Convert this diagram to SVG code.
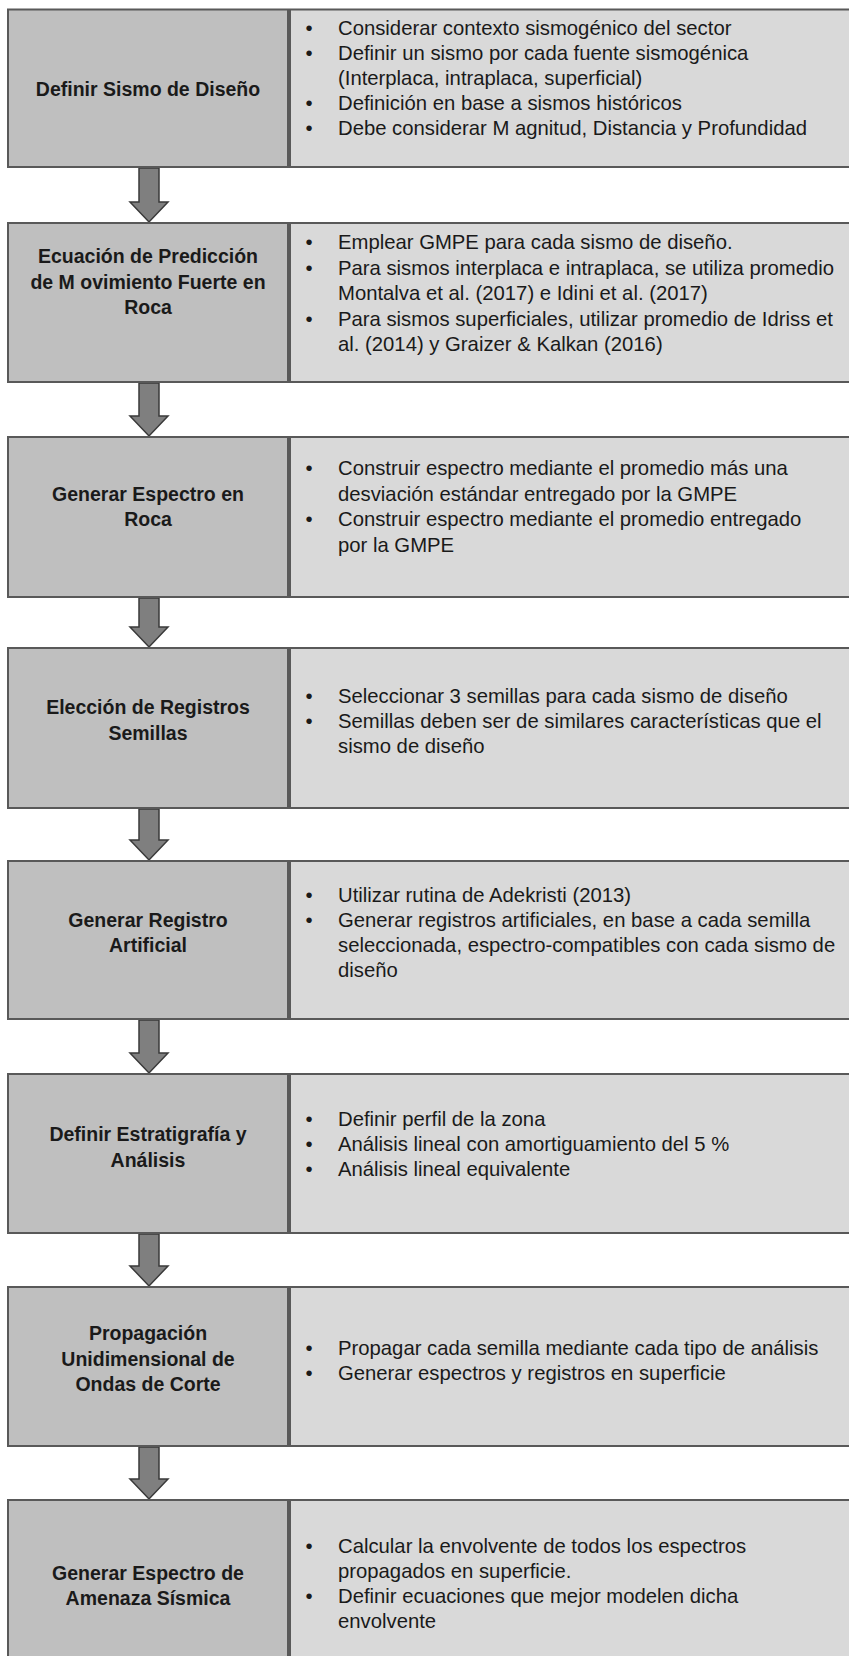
<svg xmlns="http://www.w3.org/2000/svg" width="849" height="1656" viewBox="0 0 849 1656">
<style>
.l{fill:#bfbfbf;stroke:#595959;stroke-width:2}
.r{fill:#d9d9d9;stroke:#595959;stroke-width:2}
.lt{font-family:"Liberation Sans",Arial,sans-serif;font-size:19.5px;font-weight:bold;fill:#1a1a1a;text-anchor:middle}
.rt{font-family:"Liberation Sans",Arial,sans-serif;font-size:20.3px;fill:#1a1a1a}
.b{font-family:"Liberation Sans",Arial,sans-serif;font-size:20.3px;fill:#1a1a1a;text-anchor:middle}
.a{fill:#7f7f7f;stroke:#3a3a3a;stroke-width:1.5;stroke-linejoin:miter}
</style>
<rect width="849" height="1656" fill="#ffffff"/>
<g id="connectors">
<polygon class="a" points="139,168 159,168 159,202 168,202 149,222 130,202 139,202"/>
<polygon class="a" points="139,383 159,383 159,416 168,416 149,436 130,416 139,416"/>
<polygon class="a" points="139,598 159,598 159,627 168,627 149,647 130,627 139,627"/>
<polygon class="a" points="139,809 159,809 159,840 168,840 149,860 130,840 139,840"/>
<polygon class="a" points="139,1020 159,1020 159,1053 168,1053 149,1073 130,1053 139,1053"/>
<polygon class="a" points="139,1234 159,1234 159,1266 168,1266 149,1286 130,1266 139,1266"/>
<polygon class="a" points="139,1447 159,1447 159,1479 168,1479 149,1499 130,1479 139,1479"/>
</g>
<g id="n1">
<rect class="l" x="8" y="9.5" width="280" height="157.5"/>
<rect class="r" x="290" y="9.5" width="580" height="157.5"/>
<text class="lt" x="148" y="96">Definir Sismo de Diseño</text>
<text class="b" x="309" y="35">•</text><text class="rt" x="338" y="35">Considerar contexto sismogénico del sector</text>
<text class="b" x="309" y="60">•</text><text class="rt" x="338" y="60">Definir un sismo por cada fuente sismogénica</text>
<text class="rt" x="338" y="85">(Interplaca, intraplaca, superficial)</text>
<text class="b" x="309" y="110">•</text><text class="rt" x="338" y="110">Definición en base a sismos históricos</text>
<text class="b" x="309" y="135">•</text><text class="rt" x="338" y="135">Debe considerar M agnitud, Distancia y Profundidad</text>
</g>
<g id="n2">
<rect class="l" x="8" y="223" width="280" height="159"/>
<rect class="r" x="290" y="223" width="580" height="159"/>
<text class="lt" x="148" y="263">Ecuación de Predicción</text>
<text class="lt" x="148" y="288.5">de M ovimiento Fuerte en</text>
<text class="lt" x="148" y="314">Roca</text>
<text class="b" x="309" y="249">•</text><text class="rt" x="338" y="249">Emplear GMPE para cada sismo de diseño.</text>
<text class="b" x="309" y="274.5">•</text><text class="rt" x="338" y="274.5">Para sismos interplaca e intraplaca, se utiliza promedio</text>
<text class="rt" x="338" y="300">Montalva et al. (2017) e Idini et al. (2017)</text>
<text class="b" x="309" y="325.5">•</text><text class="rt" x="338" y="325.5">Para sismos superficiales, utilizar promedio de Idriss et</text>
<text class="rt" x="338" y="351">al. (2014) y Graizer &amp; Kalkan (2016)</text>
</g>
<g id="n3">
<rect class="l" x="8" y="437" width="280" height="160"/>
<rect class="r" x="290" y="437" width="580" height="160"/>
<text class="lt" x="148" y="500.5">Generar Espectro en</text>
<text class="lt" x="148" y="526">Roca</text>
<text class="b" x="309" y="475">•</text><text class="rt" x="338" y="475">Construir espectro mediante el promedio más una</text>
<text class="rt" x="338" y="500.5">desviación estándar entregado por la GMPE</text>
<text class="b" x="309" y="526">•</text><text class="rt" x="338" y="526">Construir espectro mediante el promedio entregado</text>
<text class="rt" x="338" y="551.5">por la GMPE</text>
</g>
<g id="n4">
<rect class="l" x="8" y="648" width="280" height="160"/>
<rect class="r" x="290" y="648" width="580" height="160"/>
<text class="lt" x="148" y="714">Elección de Registros</text>
<text class="lt" x="148" y="739.5">Semillas</text>
<text class="b" x="309" y="703">•</text><text class="rt" x="338" y="703">Seleccionar 3 semillas para cada sismo de diseño</text>
<text class="b" x="309" y="728">•</text><text class="rt" x="338" y="728">Semillas deben ser de similares características que el</text>
<text class="rt" x="338" y="753">sismo de diseño</text>
</g>
<g id="n5">
<rect class="l" x="8" y="861" width="280" height="158"/>
<rect class="r" x="290" y="861" width="580" height="158"/>
<text class="lt" x="148" y="926.5">Generar Registro</text>
<text class="lt" x="148" y="952">Artificial</text>
<text class="b" x="309" y="902">•</text><text class="rt" x="338" y="902">Utilizar rutina de Adekristi (2013)</text>
<text class="b" x="309" y="927">•</text><text class="rt" x="338" y="927">Generar registros artificiales, en base a cada semilla</text>
<text class="rt" x="338" y="952">seleccionada, espectro-compatibles con cada sismo de</text>
<text class="rt" x="338" y="977">diseño</text>
</g>
<g id="n6">
<rect class="l" x="8" y="1074" width="280" height="159"/>
<rect class="r" x="290" y="1074" width="580" height="159"/>
<text class="lt" x="148" y="1141">Definir Estratigrafía y</text>
<text class="lt" x="148" y="1166.5">Análisis</text>
<text class="b" x="309" y="1126">•</text><text class="rt" x="338" y="1126">Definir perfil de la zona</text>
<text class="b" x="309" y="1151">•</text><text class="rt" x="338" y="1151">Análisis lineal con amortiguamiento del 5 %</text>
<text class="b" x="309" y="1176">•</text><text class="rt" x="338" y="1176">Análisis lineal equivalente</text>
</g>
<g id="n7">
<rect class="l" x="8" y="1287" width="280" height="159"/>
<rect class="r" x="290" y="1287" width="580" height="159"/>
<text class="lt" x="148" y="1340">Propagación</text>
<text class="lt" x="148" y="1365.5">Unidimensional de</text>
<text class="lt" x="148" y="1391">Ondas de Corte</text>
<text class="b" x="309" y="1354.5">•</text><text class="rt" x="338" y="1354.5">Propagar cada semilla mediante cada tipo de análisis</text>
<text class="b" x="309" y="1379.5">•</text><text class="rt" x="338" y="1379.5">Generar espectros y registros en superficie</text>
</g>
<g id="n8">
<rect class="l" x="8" y="1500" width="280" height="200"/>
<rect class="r" x="290" y="1500" width="580" height="200"/>
<text class="lt" x="148" y="1579.5">Generar Espectro de</text>
<text class="lt" x="148" y="1605">Amenaza Sísmica</text>
<text class="b" x="309" y="1553">•</text><text class="rt" x="338" y="1553">Calcular la envolvente de todos los espectros</text>
<text class="rt" x="338" y="1578">propagados en superficie.</text>
<text class="b" x="309" y="1603">•</text><text class="rt" x="338" y="1603">Definir ecuaciones que mejor modelen dicha</text>
<text class="rt" x="338" y="1628">envolvente</text>
</g>
</svg>
